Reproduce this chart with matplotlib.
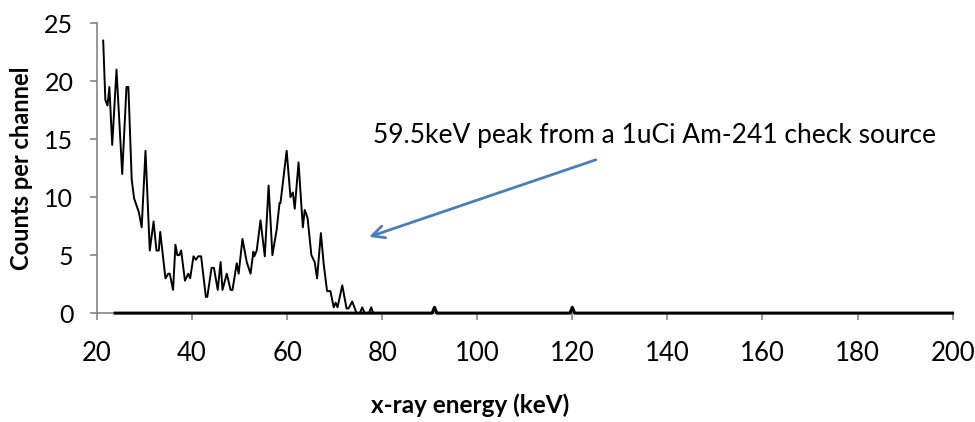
import matplotlib.pyplot as plt

plt.rcParams["font.family"] = ["Lato", "DejaVu Sans"]

# gamma spectrum
energy = [21.3, 21.75, 22.2, 22.6, 23.2, 24.1, 25.3, 26.2, 26.6, 27.3, 27.8,
          28.8, 29.4, 30.2, 31.1, 31.9, 32.5, 33.0, 33.3, 34.4, 35.0, 35.3,
          36.0, 36.5, 36.9, 37.3, 37.7, 38.5, 39.2, 39.6, 40.3, 40.8, 41.3,
          41.9, 42.9, 43.2, 44.1, 44.6, 45.4, 46.0, 46.4, 47.3, 48.1, 48.5,
          49.4, 49.8, 50.6, 51.5, 52.3, 52.9, 53.1, 53.6, 54.4, 55.3, 56.1,
          56.9, 57.8, 58.4, 58.6, 59.9, 60.7, 61.2, 61.6, 62.4, 63.3, 63.7,
          64.3, 65.1, 65.8, 66.3, 67.1, 67.7, 68.4, 69.1, 69.8, 70.2, 70.6,
          71.6, 72.5, 72.9, 73.7, 74.6, 75.3, 75.8, 76.3, 77.2, 77.7, 78.1]
counts = [23.5, 18.4, 17.9, 19.5, 14.5, 21.0, 12.0, 19.5, 19.5, 11.5, 9.9,
          8.7, 7.4, 14.0, 5.4, 7.9, 5.4, 5.4, 7.0, 3.0, 3.4, 3.4,
          2.0, 5.9, 5.0, 5.0, 5.4, 2.8, 3.4, 3.0, 4.9, 4.6, 4.9,
          4.9, 1.4, 1.4, 3.9, 3.9, 2.0, 4.4, 2.0, 3.4, 2.0, 2.0,
          4.3, 3.4, 6.4, 4.4, 3.4, 5.3, 4.9, 5.4, 8.0, 4.9, 11.0,
          5.0, 7.2, 9.5, 9.5, 14.0, 10.0, 10.4, 9.0, 13.0, 7.4, 8.9,
          8.2, 5.0, 4.4, 3.0, 6.9, 4.2, 1.9, 1.9, 0.5, 0.9, 0.5,
          2.4, 0.4, 0.4, 1.0, 0.0, 0.0, 0.5, 0.0, 0.0, 0.5, 0.0]

# flat part of the spectrum with the two small blips
tail_energy = [23.8, 90.5, 91.0, 91.5, 119.5, 120.0, 120.5, 200.0]
tail_counts = [0, 0, 0.5, 0, 0, 0.5, 0, 0]

note = "59.5keV peak from a 1uCi Am-241 check source"

fig = plt.figure(figsize=(9.75, 4.22), dpi=100)
ax = fig.add_axes([0.0995, 0.258, 0.8775, 0.687])

ax.plot(tail_energy, tail_counts, color="k", lw=2.2, clip_on=False, zorder=5)
ax.plot(energy, counts, color="k", lw=1.4, clip_on=False, zorder=5)

ax.set_xlim(20, 200)
ax.set_ylim(0, 25)
ax.set_xticks(range(20, 201, 20))
ax.set_yticks(range(0, 26, 5))

for s in ("top", "right"):
    ax.spines[s].set_visible(False)
for s in ("left", "bottom"):
    ax.spines[s].set_color("#868686")
    ax.spines[s].set_linewidth(1.2)
ax.tick_params(axis="x", colors="#868686", length=5, width=1.2, pad=15,
               labelsize=18.5, labelcolor="k")
ax.tick_params(axis="y", colors="#868686", length=5, width=1.2, pad=12,
               labelsize=18, labelcolor="k")

# excel puts the x title a bit left of centre
fig.text(470 / 975, 1 - 405 / 422, "x-ray energy (keV)", fontsize=17.5,
         fontweight="bold", ha="center", va="center")
ax.set_ylabel("Counts per channel", fontsize=17, fontweight="bold", labelpad=8)

ax.annotate("", xy=(76.7, 6.5), xytext=(125.5, 13.3),
            arrowprops=dict(arrowstyle="->", color="#4a7ebb", lw=2,
                            mutation_scale=22))
ax.text(137.2, 15.3, note, fontsize=19, ha="center", va="center")

fig.savefig("out.png")
